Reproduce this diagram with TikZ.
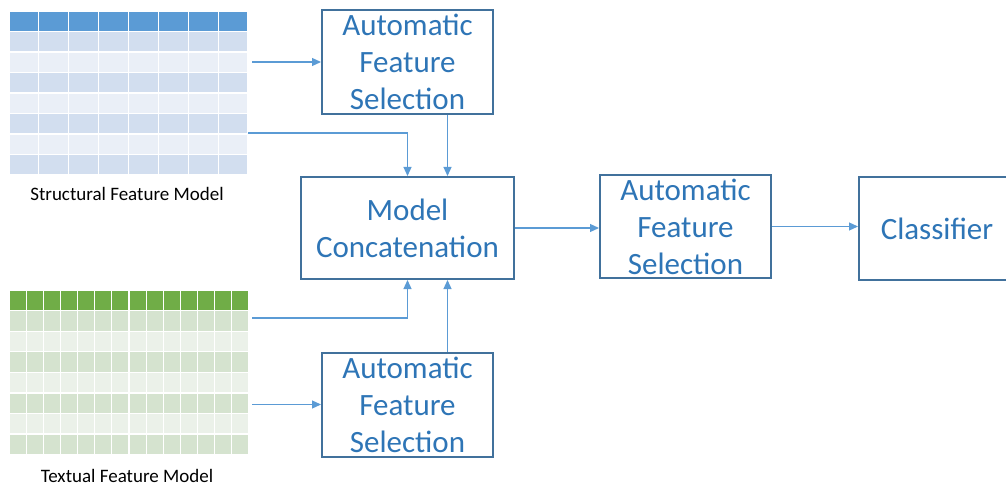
\documentclass[tikz,border=0pt]{standalone}
\usepackage{fontspec}
\setmainfont{Carlito}
\usetikzlibrary{arrows.meta}

\definecolor{boxc}{HTML}{41719C}
\definecolor{txtc}{HTML}{2E75B6}
\definecolor{linec}{HTML}{5B9BD5}
\definecolor{sth}{HTML}{5B9BD5}
\definecolor{sta}{HTML}{D2DEEF}
\definecolor{stb}{HTML}{EAEFF7}
\definecolor{tth}{HTML}{70AD47}
\definecolor{tta}{HTML}{D5E3CF}
\definecolor{ttb}{HTML}{EBF1E9}

\tikzset{
  stagebox/.style={draw=boxc, line width=2pt, text=txtc, align=center,
    font=\fontsize{31}{37}\selectfont, inner sep=0pt,
    minimum width=171pt, minimum height=104pt},
  flow/.style={draw=linec, line width=1.2pt, -{Triangle[length=9pt,width=8pt]}},
  caption/.style={font=\fontsize{19}{22}\selectfont, text=black, inner sep=0pt, anchor=base},
  gridframe/.style={inner sep=0pt}
}

\begin{document}
\begin{tikzpicture}[x=1pt,y=-1pt]
  \useasboundingbox (0,0) rectangle (1006,486);
  \clip (0,0) rectangle (1006,486);

  % structural feature grid: 8 columns, banded rows
  \foreach \r/\col in {0/sth,1/sta,2/stb,3/sta,4/stb,5/sta,6/stb,7/sta}{
    \foreach \c in {0,...,7}{
      \fill[\col] (9.6+\c*29.875, 11.6+\r*20.5) rectangle ++(28.7,19.3);
    }
  }
  \node[gridframe, minimum width=239pt, minimum height=164pt] (st) at (128.5,93) {};
  \node[caption] (stcap) at (127,201) {Structural Feature Model};

  % textual feature grid: 14 columns, banded rows
  \foreach \r/\col in {0/tth,1/tta,2/ttb,3/tta,4/ttb,5/tta,6/ttb,7/tta}{
    \foreach \c in {0,...,13}{
      \fill[\col] (9.6+\c*17.143, 290.8+\r*20.54) rectangle ++(15.95,19.3);
    }
  }
  \node[gridframe, minimum width=240pt, minimum height=164pt] (tt) at (129,372.9) {};
  \node[caption] (ttcap) at (127,482) {Textual Feature Model};

  % processing stages
  \node[stagebox] (afs1) at (407.5,62) {Automatic\\Feature\\Selection};
  \node[stagebox, minimum width=213pt, minimum height=102pt] (mc) at (407.5,228) {Model\\Concatenation};
  \node[stagebox] (afs3) at (407.5,404.5) {Automatic\\Feature\\Selection};
  \node[stagebox, minimum height=103pt] (afs2) at (685.5,226.5) {Automatic\\Feature\\Selection};
  \node[stagebox, minimum width=156pt, minimum height=103pt] (cls) at (937,228.5) {Classifier};

  % connectors
  \draw[flow] ([xshift=4pt]st.east |- afs1.west) -- (afs1.west);
  \draw[flow] ([yshift=-40pt]st.east) -| (mc.north);
  \draw[flow] ([xshift=40pt]afs1.south) -- ([xshift=40pt]mc.north);
  \draw[flow] ([xshift=3pt]tt.east |- 0,318) -| (mc.south);
  \draw[flow] ([xshift=40pt]afs3.north) -- ([xshift=40pt]mc.south);
  \draw[flow] ([xshift=3pt]tt.east |- afs3.west) -- (afs3.west);
  \draw[flow] (mc.east) -- (mc.east -| afs2.west);
  \draw[flow] (afs2.east) -- (afs2.east -| cls.west);
\end{tikzpicture}
\end{document}
